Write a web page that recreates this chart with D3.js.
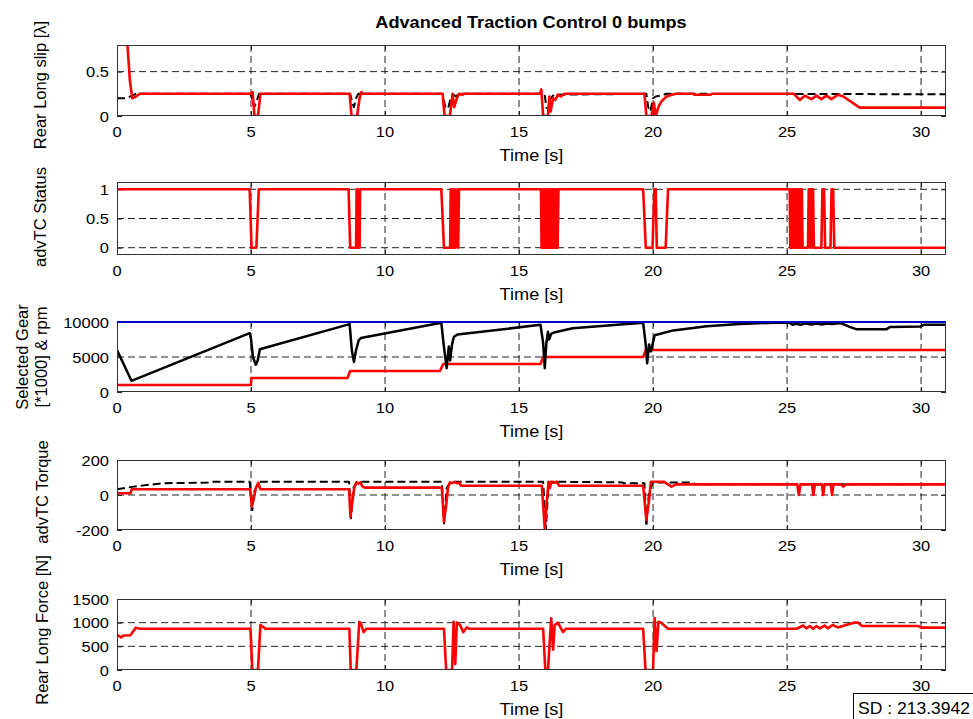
<!DOCTYPE html>
<html>
<head>
<meta charset="utf-8">
<script src="https://cdn.jsdelivr.net/npm/d3@7"></script>
<style>
  html, body { margin: 0; padding: 0; background: #fff; }
  svg { display: block; font-family: Arial, "Liberation Sans", Helvetica, sans-serif; }
</style>
</head>
<body>
<svg id="chart" width="973" height="719"></svg>
<script>
// ---- data: [time s, value] samples ----
const timeTicks = [0, 5, 10, 15, 20, 25, 30];
const timeMax = 30.93;

const slipTicks = [0, 0.5];
const slipTicksLabels = ["0", "0.5"];
const slipRef = [[0,0.2],[0.3,0.2],[0.5,0.22],[0.7,0.25],[4.98,0.25],[5.05,0.18],[5.12,0.1],[5.22,0.18],[5.3,0.25],
  [8.7,0.25],[8.78,0.15],[8.84,0.1],[8.92,0.2],[9.0,0.25],[12.15,0.25],[12.25,0.1],[12.35,0.08],[12.45,0.2],[12.55,0.24],
  [12.65,0.22],[12.75,0.25],[15.95,0.25],[16.02,0.1],[16.1,0.07],[16.18,0.2],[16.3,0.24],[19.75,0.25],[19.82,0.1],
  [19.9,0.05],[20.0,0.2],[20.1,0.22],[20.3,0.23],[20.5,0.25],[25.0,0.248],[30.93,0.245]];
const slipRed = [[0,1.0],[0.38,0.85],[0.48,0.4],[0.57,0.2],[0.65,0.21],[0.85,0.25],[5.02,0.25],[5.06,0.27],[5.1,0.1],
  [5.13,0],[5.26,0],[5.35,0.25],[8.68,0.25],[8.75,0],[8.96,0],[9.05,0.2],[9.12,0.27],[9.17,0.25],[12.15,0.25],[12.22,0],
  [12.42,0],[12.52,0.25],[12.58,0.1],[12.68,0.2],[12.76,0.25],[12.9,0.24],[12.95,0.25],[15.78,0.25],[15.83,0.3],[15.9,0],
  [16.08,0],[16.13,0.22],[16.18,0.05],[16.27,0.2],[16.35,0.18],[16.45,0.24],[16.55,0.22],[16.7,0.25],[19.68,0.25],
  [19.75,0],[19.94,0],[20.03,0.15],[20.1,0],[20.2,0.1],[20.3,0.16],[20.5,0.22],[20.7,0.24],[20.87,0.25],[21.5,0.25],
  [21.55,0.24],[22.15,0.24],[22.2,0.25],[25.25,0.25],[25.48,0.18],[25.66,0.23],[25.91,0.19],[26.1,0.23],[26.28,0.19],
  [26.47,0.23],[26.66,0.19],[26.9,0.24],[27.1,0.22],[27.71,0.094],[30.93,0.094]];

const statusTicks = [0, 0.5, 1];
const statusTicksLabels = ["0", "0.5", "1"];
const statusRed = [[0,1],[4.95,1],[5.02,0],[5.2,0],[5.29,1],[8.64,1],[8.7,0],[8.92,0],[8.94,1],[8.98,1],[9.0,0],[9.05,0],
  [9.07,1],[12.1,1],[12.2,0],[12.43,0],[12.45,1],[12.48,0],[12.52,1],[12.55,0],[12.6,1],[12.63,0],[12.7,1],[12.73,0],
  [12.76,1],[15.82,1],[15.84,0],[15.88,1],[15.9,0],[15.95,1],[15.97,0],[16.0,1],[16.02,0],[16.05,1],[16.07,0],[16.1,1],
  [16.12,0],[16.14,1],[16.16,0],[16.19,1],[16.21,0],[16.25,1],[16.27,0],[16.3,1],[16.32,0],[16.36,1],[16.38,0],
  [16.42,1],[16.44,0],[16.47,1],[19.63,1],[19.73,0],[19.98,0],[20.05,1],[20.1,1],[20.14,0],[20.47,0],[20.56,1],
  [25.1,1],[25.12,0],[25.16,0],[25.18,1],[25.22,1],[25.24,0],[25.28,1],[25.3,0],[25.33,1],[25.36,0],[25.4,1],[25.43,0],
  [25.47,1],[25.5,0],[25.55,1],[25.58,0],[25.78,0],[25.81,1],[25.86,1],[25.88,0],[25.9,0],[25.92,1],[25.97,1],[26.0,0],
  [26.28,0],[26.32,1],[26.38,1],[26.42,0],[26.62,0],[26.66,1],[26.72,1],[26.76,0],[30.93,0]];

const rpmTicks = [0, 5000, 10000];
const rpmTicksLabels = ["0", "5000", "10000"];
const rpmLimit = [[0,10000],[30.93,10000]];
const gearRpm = [[0,1000],[5.0,1000],[5.01,2000],[8.6,2000],[8.7,3000],[12.05,3000],[12.17,4000],[15.8,4000],
  [15.9,5000],[19.63,5000],[19.73,6000],[30.93,6000]];
const engineRpm = [[0,6000],[0.54,1600],[4.95,8400],[5.0,7600],[5.07,5000],[5.18,3900],[5.25,4500],[5.33,6100],
  [8.68,9700],[8.76,6000],[8.84,4300],[8.92,6000],[9.02,7400],[9.1,7700],[12.1,9900],[12.18,7000],[12.3,3400],
  [12.38,6500],[12.43,4500],[12.5,6800],[12.57,7900],[12.7,8200],[15.8,9600],[15.9,7000],[15.96,3400],[16.02,7000],
  [16.08,8600],[16.12,7500],[16.2,8300],[16.3,8500],[17.0,9100],[19.63,9900],[19.72,7000],[19.78,4100],[19.85,6800],
  [19.92,5800],[20.06,8100],[20.75,8800],[22.0,9400],[23.23,9700],[24.48,9900],[25.1,9900],[25.2,9600],[25.35,9750],
  [25.5,9600],[25.7,9800],[25.9,9650],[26.1,9800],[26.3,9650],[26.5,9800],[26.7,9700],[27.0,9850],[27.34,9300],
  [27.6,8950],[28.7,8950],[28.85,9300],[30.0,9350],[30.1,9600],[30.93,9600]];

const torqueTicks = [-200, 0, 200];
const torqueTicksLabels = ["-200", "0", "200"];
const torqueRef = [[0,33],[0.5,45],[1.0,55],[1.7,67],[3.4,71],[3.5,76],[4.95,76],[5.05,-86],[5.12,20],[5.3,76],
  [8.66,76],[8.73,-133],[8.82,40],[8.95,76],[12.12,76],[12.2,-162],[12.3,40],[12.45,76],[15.9,76],[16.0,-194],
  [16.1,60],[16.25,76],[18.87,72],[18.9,67],[19.68,67],[19.75,-181],[19.85,20],[20.0,72],[21.5,72],[21.55,61],[30.93,61]];
const torqueRed = [[0,10],[0.5,10],[0.55,33],[4.97,33],[5.03,-67],[5.1,-20],[5.18,40],[5.27,70],[5.35,33],[8.66,33],
  [8.71,-124],[8.78,-40],[8.85,40],[8.93,70],[9.0,65],[9.08,72],[9.15,50],[9.25,42],[12.12,42],[12.2,-152],[12.28,-60],
  [12.35,40],[12.42,72],[12.5,68],[12.6,74],[12.7,66],[12.78,72],[12.83,53],[15.85,53],[15.96,-190],[16.03,-50],
  [16.1,76],[16.15,40],[16.2,76],[16.3,70],[16.4,76],[16.5,53],[19.63,53],[19.75,-143],[19.85,-30],[19.92,76],
  [20.4,76],[20.69,48],[20.87,61],[25.38,61],[25.44,0],[25.5,61],[25.93,61],[25.98,0],[26.04,61],[26.3,61],[26.35,0],
  [26.4,61],[26.63,61],[26.68,0],[26.73,61],[27.0,61],[27.1,48],[27.2,61],[30.93,61]];

const forceTicks = [0, 500, 1000, 1500];
const forceTicksLabels = ["0", "500", "1000", "1500"];
const forceRed = [[0,745],[0.15,690],[0.25,730],[0.5,735],[0.7,895],[0.85,870],[4.98,870],[5.05,0],[5.26,0],[5.35,950],
  [5.45,910],[5.55,870],[8.67,870],[8.72,0],[8.93,0],[9.04,1020],[9.12,950],[9.2,800],[9.3,870],[12.2,870],[12.28,0],
  [12.5,0],[12.56,1020],[12.62,120],[12.68,1000],[12.8,950],[12.92,800],[13.05,900],[13.15,870],[15.9,870],[15.98,0],
  [16.08,0],[16.2,1090],[16.27,430],[16.33,950],[16.45,1000],[16.64,800],[16.75,870],[19.63,870],[19.72,0],[20.0,0],
  [20.06,1100],[20.13,400],[20.2,1020],[20.3,1000],[20.56,870],[25.35,870],[25.6,940],[25.72,880],[25.85,930],
  [25.97,870],[26.1,930],[26.22,880],[26.4,940],[26.52,880],[26.7,950],[26.9,900],[27.2,950],[27.5,1000],[27.65,1000],
  [27.8,930],[29.9,930],[30.0,895],[30.93,895]];

const titleText = "Advanced Traction Control 0 bumps";
const sdText = "SD : 213.3942";

// ---- layout ----
const svg = d3.select("#chart");
const X0 = 117, X1 = 946;
const stretch = 1.1;      // horizontal glyph stretch of the exported figure
const RED = "#ff0000", BLACK = "#000000", BLUE = "#0000c8";

const x = d3.scaleLinear().domain([0, timeMax]).range([X0, X1]);

const panels = [
  { top: 45, bottom: 116, domain: [0, 0.8], ticks: slipTicks, labels: slipTicksLabels,
    ylabel: ["Rear Long slip [\u03bb]"], lx: [40], ly: 85,
    series: [ { data: slipRef, color: BLACK, width: 2, dash: "8,4" },
              { data: slipRed, color: RED, width: 2.6 } ] },
  { top: 182, bottom: 255, domain: [-0.125, 1.125], ticks: statusTicks, labels: statusTicksLabels,
    ylabel: ["advTC Status"], lx: [40], ly: 217,
    series: [ { data: statusRed, color: RED, width: 2.6 } ] },
  { top: 322, bottom: 392, domain: [0, 10000], ticks: rpmTicks, labels: rpmTicksLabels,
    ylabel: ["Selected Gear", "[*1000] & rpm"], lx: [22, 41], ly: 357,
    series: [ { data: rpmLimit, color: BLUE, width: 2 },
              { data: gearRpm, color: RED, width: 2.6 },
              { data: engineRpm, color: BLACK, width: 2.5 } ] },
  { top: 460, bottom: 530, domain: [-200, 200], ticks: torqueTicks, labels: torqueTicksLabels,
    ylabel: ["advTC Torque"], lx: [42], ly: 492,
    series: [ { data: torqueRef, color: BLACK, width: 2, dash: "8,4" },
              { data: torqueRed, color: RED, width: 2.6 } ] },
  { top: 599, bottom: 670, domain: [0, 1500], ticks: forceTicks, labels: forceTicksLabels,
    ylabel: ["Rear Long Force [N]"], lx: [42], ly: 630,
    series: [ { data: forceRed, color: RED, width: 2.6 } ] }
];

function hText(g, tx, ty, str, size, anchor, weight) {
  return g.append("text")
    .attr("transform", `translate(${tx},${ty}) scale(${stretch},1)`)
    .attr("text-anchor", anchor)
    .attr("font-size", size)
    .attr("font-weight", weight || "normal")
    .attr("fill", "#000")
    .text(str);
}

// title
hText(svg, 531, 28, titleText, 16.5, "middle", "bold");

panels.forEach((p, i) => {
  const y = d3.scaleLinear().domain(p.domain).range([p.bottom, p.top]);
  const g = svg.append("g");
  const clipId = "clip" + i;
  svg.append("clipPath").attr("id", clipId)
    .append("rect").attr("x", X0).attr("y", p.top).attr("width", X1 - X0).attr("height", p.bottom - p.top);

  // dashed grid
  const grid = g.append("g").attr("stroke", "#222").attr("stroke-width", 1).attr("stroke-dasharray", "7,4");
  timeTicks.filter(t => t > 0).forEach(t => {
    grid.append("line").attr("x1", x(t)).attr("x2", x(t)).attr("y1", p.top).attr("y2", p.bottom);
  });
  p.ticks.forEach(v => {
    const yy = y(v);
    if (yy > p.top + 1 && yy < p.bottom - 1)
      grid.append("line").attr("x1", X0).attr("x2", X1).attr("y1", yy).attr("y2", yy);
  });

  // axes via d3 (inner ticks on all four sides)
  const bottomAxis = d3.axisBottom(x).tickValues(timeTicks).tickSize(-5).tickFormat("");
  const topAxis = d3.axisTop(x).tickValues(timeTicks).tickSize(-5).tickFormat("");
  const leftAxis = d3.axisLeft(y).tickValues(p.ticks).tickSize(-5).tickFormat("");
  const rightAxis = d3.axisRight(y).tickValues(p.ticks).tickSize(-5).tickFormat("");
  [[bottomAxis, `translate(0,${p.bottom})`], [topAxis, `translate(0,${p.top})`],
   [leftAxis, `translate(${X0},0)`], [rightAxis, `translate(${X1},0)`]].forEach(([ax, tr]) => {
    const a = g.append("g").attr("transform", tr).call(ax);
    a.select(".domain").remove();
    a.selectAll("line").attr("stroke", "#222").attr("stroke-width", 1);
  });

  // series
  const line = d3.line().x(d => x(d[0])).y(d => y(d[1]));
  const sg = g.append("g").attr("clip-path", `url(#${clipId})`);
  p.series.forEach(s => {
    sg.append("path").datum(s.data)
      .attr("d", line)
      .attr("fill", "none")
      .attr("stroke", s.color)
      .attr("stroke-width", s.width)
      .attr("stroke-linejoin", "round")
      .attr("stroke-dasharray", s.dash || null);
  });

  // frame
  g.append("rect").attr("x", X0 + 0.5).attr("y", p.top + 0.5)
    .attr("width", X1 - X0 - 1).attr("height", p.bottom - p.top - 1)
    .attr("fill", "none").attr("stroke", "#333").attr("stroke-width", 1);
  if (i === 2) {
    // keep the rpm ceiling line on top of the frame
    g.append("line").attr("x1", X0).attr("x2", X1).attr("y1", y(10000)).attr("y2", y(10000))
      .attr("stroke", BLUE).attr("stroke-width", 2);
  }

  // tick labels
  timeTicks.forEach(t => hText(g, x(t), p.bottom + 21, String(t), 15, "middle"));
  p.ticks.forEach((v, k) => hText(g, X0 - 8, y(v) + 5.5, p.labels[k], 15, "end"));

  // axis labels
  hText(g, (X0 + X1) / 2, p.bottom + 45, "Time [s]", 16.5, "middle");
  p.ylabel.forEach((lab, k) => {
    g.append("text")
      .attr("transform", `translate(${p.lx[k]},${p.ly}) rotate(-90)`)
      .attr("text-anchor", "middle")
      .attr("dy", "0.35em")
      .attr("font-size", 16.5)
      .attr("fill", "#000")
      .text(lab);
  });
});

// SD annotation box
const sd = svg.append("g");
sd.append("rect").attr("x", 853.5).attr("y", 693.5).attr("width", 130).attr("height", 30)
  .attr("fill", "#fff").attr("stroke", "#000").attr("stroke-width", 1);
sd.append("text").attr("x", 858).attr("y", 714)
  .attr("font-size", 16.5).attr("fill", "#000")
  .attr("textLength", 112).attr("lengthAdjust", "spacingAndGlyphs")
  .text(sdText);
</script>
</body>
</html>
